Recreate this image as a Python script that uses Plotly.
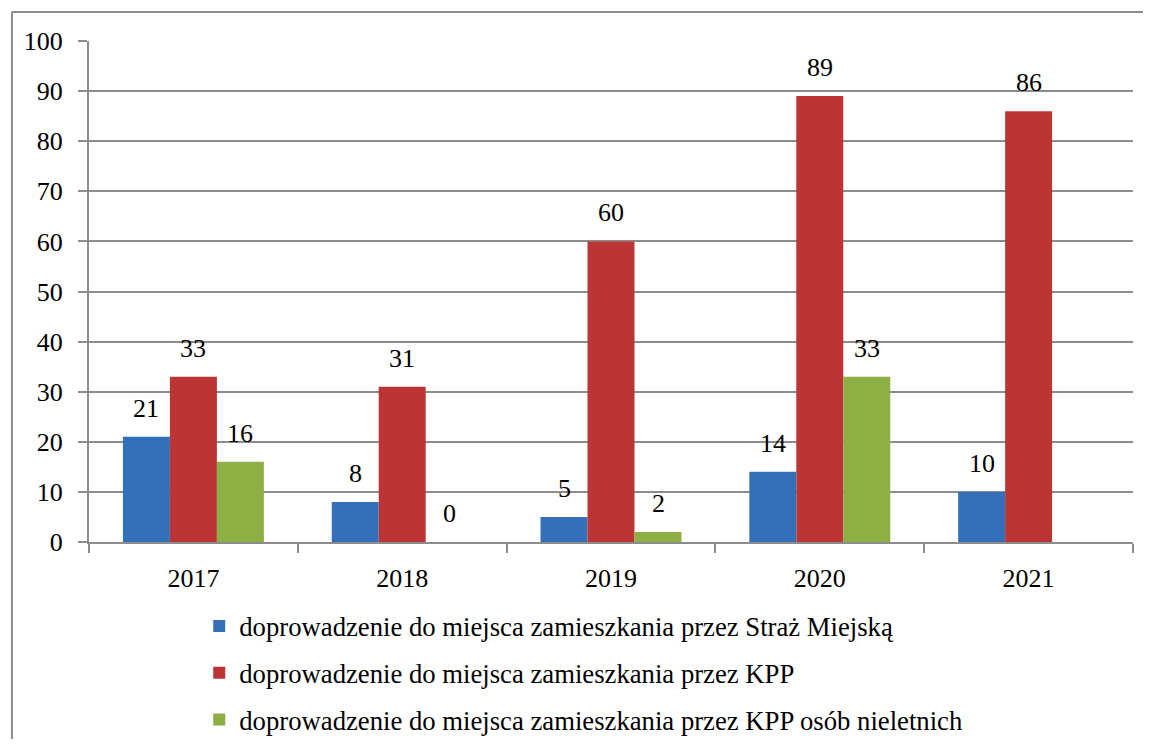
import plotly.graph_objects as go

# data
years = ["2017", "2018", "2019", "2020", "2021"]
straz_miejska = [21, 8, 5, 14, 10]
kpp = [33, 31, 60, 89, 86]
kpp_nieletni = [16, 0, 2, 33, None]

series_names = [
    "doprowadzenie do miejsca zamieszkania przez Straż Miejską",
    "doprowadzenie do miejsca zamieszkania przez KPP",
    "doprowadzenie do miejsca zamieszkania przez KPP osób nieletnich",
]
series_values = [straz_miejska, kpp, kpp_nieletni]
colors = ["#3470BA", "#BA3533", "#8CB043"]

FONT = "Liberation Serif"

fig = go.Figure()
for i, (name, vals, col) in enumerate(zip(series_names, series_values, colors)):
    fig.add_trace(
        go.Bar(
            x=years,
            y=vals,
            name=name,
            marker=dict(color=col, line=dict(width=0)),
            legendgroup=f"g{i}",
        )
    )

# value labels above the bars (x as category index)
offsets = [-47, 0, 47]
for vals, dx in zip(series_values, offsets):
    for idx, v in enumerate(vals):
        if v is None:
            continue
        fig.add_annotation(
            x=idx, y=v, text=str(v), showarrow=False,
            xshift=dx, yshift=12, yanchor="bottom",
            font=dict(family=FONT, size=26, color="black"),
        )

# outer chart border: only left and top edges are visible in the reference
border = dict(color="#8c8c8c", width=2)
fig.add_shape(type="line", xref="paper", yref="paper",
              x0=-0.0738, x1=-0.0738, y0=-0.5, y1=1.0579, line=border)
fig.add_shape(type="line", xref="paper", yref="paper",
              x0=-0.0738, x1=1.1, y0=1.0579, y1=1.0579, line=border)

fig.update_layout(
    width=1135,
    height=731,
    paper_bgcolor="white",
    plot_bgcolor="white",
    margin=dict(l=81, r=10, t=33, b=197, autoexpand=False),
    barmode="group",
    bargap=0.325,
    bargroupgap=0,
    font=dict(family=FONT, size=26, color="black"),
    showlegend=True,
    legend=dict(
        orientation="v",
        x=0.1056, y=-0.12, xanchor="left", yanchor="top",
        font=dict(family=FONT, size=26.7, color="black"),
        tracegroupgap=9,
        itemwidth=30,
        bgcolor="rgba(0,0,0,0)",
    ),
    xaxis=dict(
        type="category",
        range=[-0.5, len(years) - 0.5],
        showline=True, linecolor="#8c8c8c", linewidth=2,
        ticks="outside", tickson="boundaries", ticklen=9,
        tickcolor="#8c8c8c", tickwidth=2,
        showgrid=False,
        tickangle=0,
        ticklabelstandoff=12,
        tickfont=dict(family=FONT, size=26),
    ),
    yaxis=dict(
        range=[0, 100], dtick=10,
        showline=True, linecolor="#8c8c8c", linewidth=2,
        ticks="outside", ticklen=9, tickcolor="#8c8c8c", tickwidth=2,
        showgrid=True, gridcolor="#8c8c8c", gridwidth=2,
        zeroline=False,
        ticklabelstandoff=10,
        tickfont=dict(family=FONT, size=26),
    ),
)

fig.write_html("out.html")
